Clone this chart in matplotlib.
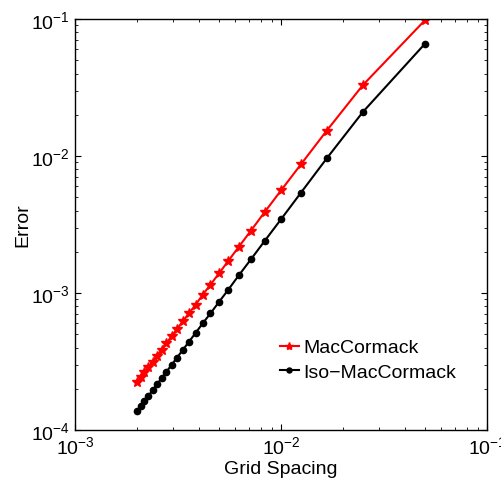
import matplotlib
matplotlib.use("Agg")
import matplotlib.pyplot as plt
import numpy as np

plt.rcParams['font.family'] = ['Liberation Sans', 'DejaVu Sans']
plt.rcParams['mathtext.fontset'] = 'custom'
plt.rcParams['mathtext.rm'] = 'Liberation Sans'
plt.rcParams['mathtext.it'] = 'Liberation Sans:italic'
plt.rcParams['mathtext.default'] = 'regular'

# grid resolutions N -> spacing h = 1/N
N = [20, 40, 60, 80, 100, 120, 140, 160, 180, 200, 220, 240, 260,
     280, 300, 320, 340, 360, 380, 400, 420, 440, 460, 480, 500]
h = [1.0 / n for n in N]

err_mac = [0.098, 0.033, 0.0153, 0.0087, 0.0056, 0.0039, 0.00285, 0.00218,
           0.00172, 0.00139, 0.00115, 0.00097, 0.00082, 0.00071, 0.00062,
           0.000545, 0.000482, 0.00043, 0.000386, 0.000348, 0.000316,
           0.000288, 0.000263, 0.000242, 0.000223]
err_iso = [0.066, 0.021, 0.0096, 0.0054, 0.00345, 0.0024, 0.00176, 0.00135,
           0.00106, 0.00086, 0.00071, 0.0006, 0.00051, 0.00044, 0.000383,
           0.000337, 0.000298, 0.000266, 0.000239, 0.000215, 0.000195,
           0.000178, 0.000163, 0.00015, 0.000138]

fig = plt.figure(figsize=(5.02, 4.81), dpi=100)
ax = fig.add_axes([75/502, 1-431/481, 412/502, 411/481])

ax.loglog(h, err_mac, color='red', marker='*', markersize=7.5, linewidth=1.5,
          label='MacCormack')
ax.loglog(h, err_iso, color='black', marker='o', markersize=4.5, linewidth=1.5,
          label='Iso\u2212MacCormack')

ax.set_xlim(1e-3, 1e-1)
ax.set_ylim(1e-4, 1e-1)
ax.set_xlabel('Grid Spacing', fontsize=14, labelpad=2)
ax.set_ylabel('Error', fontsize=14, labelpad=0)

ax.tick_params(which='both', direction='in', top=True, right=True, labelsize=14)
ax.tick_params(which='major', length=4, width=0.8)
ax.tick_params(which='minor', length=2.5, width=0.6)
for s in ax.spines.values():
    s.set_linewidth(1.0)

ax.legend(loc='upper left', bbox_to_anchor=(0.497, 0.222), frameon=False,
          fontsize=14, handlelength=1.0, handletextpad=0.2, borderpad=0,
          labelspacing=0.35, borderaxespad=0, markerscale=0.8)

fig.savefig('out.png', dpi=100)
